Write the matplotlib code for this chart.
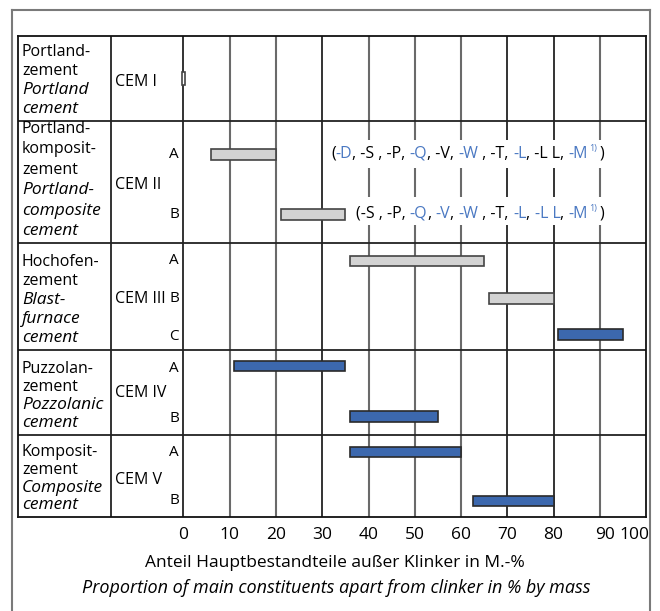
import matplotlib
matplotlib.use("Agg")
import matplotlib.pyplot as plt
import matplotlib.transforms as mtransforms
from matplotlib.lines import Line2D
from matplotlib.patches import Rectangle

plt.rcParams['font.family'] = ['Open Sans', 'DejaVu Sans']

# data: share of main constituents other than clinker (% by mass)
groups = ['CEM I', 'CEM II', 'CEM III', 'CEM IV', 'CEM V']
group_names_de = [['Portland-', 'zement'], ['Portland-', 'komposit-', 'zement'],
                  ['Hochofen-', 'zement'], ['Puzzolan-', 'zement'], ['Komposit-', 'zement']]
group_names_en = [['Portland', 'cement'], ['Portland-', 'composite', 'cement'],
                  ['Blast-', 'furnace', 'cement'], ['Pozzolanic', 'cement'], ['Composite', 'cement']]
sub_types = [[''], ['A', 'B'], ['A', 'B', 'C'], ['A', 'B'], ['A', 'B']]
bar_start = [-0.4, 6, 21, 36, 66, 81, 11, 36, 36, 62.5]
bar_end = [0.4, 20, 35, 65, 80, 95, 35, 55, 60, 80]
bar_blue = [False, False, False, False, False, True, True, True, True, True]
ticks = [0, 10, 20, 30, 40, 50, 60, 70, 80, 90, 100]

# constituent notes for CEM II (text, highlighted)
notes_a = [('(', 0), ('-D', 1), (', -S , -P, ', 0), ('-Q', 1), (', -V, ', 0), ('-W', 1),
           (' , -T, ', 0), ('-L', 1), (', -L L, ', 0), ('-M', 1)]
notes_b = [('(-S , -P, ', 0), ('-Q', 1), (', ', 0), ('-V', 1), (', ', 0), ('-W', 1),
           (' , -T, ', 0), ('-L', 1), (', ', 0), ('-L L', 1), (', ', 0), ('-M', 1)]

# layout (pixel based)
PX0, PPU = 183.5, 4.625
def px2x(px):
    return (px - PX0) / PPU

row_lines = [36, 121, 243, 350, 435, 517]
bar_y = [78.5, 154.5, 214.5, 261, 298.5, 334.5, 366, 416.5, 452, 501]
sub_y = [[82], [154, 215], [261, 298, 336], [368, 418], [453, 500]]
cem_y = [82, 185, 299, 393, 480]
line_step = [19, 20.4, 19, 18, 17.5]
grid_dark = [0, 30, 70, 80]

BLUE = '#3c68ae'
TXT_BLUE = '#4a78c2'
GRAY = '#d3d3d3'

fig = plt.figure(figsize=(6.6, 6.11), dpi=100)
W, H = 660, 611
ax = fig.add_axes([18 / W, 1 - 517 / H, (646 - 18) / W, (517 - 36) / H])
xmin = px2x(18)
ax.set_xlim(xmin, 100)
ax.set_ylim(517, 36)
for s in ax.spines.values():
    s.set_color('#111111')
    s.set_linewidth(1.3)
ax.set_yticks([])
ax.set_xticks(ticks)
ax.set_xticklabels([str(t) for t in ticks], fontsize=12.5)
ax.tick_params(axis='x', length=0, pad=7)
tl = ax.get_xticklabels()
tl[-1].set_ha('right')
tl[-1].set_transform(tl[-1].get_transform() + mtransforms.ScaledTranslation(3 / 100, 0, fig.dpi_scale_trans))
tl[-2].set_transform(tl[-2].get_transform() + mtransforms.ScaledTranslation(5 / 100, 0, fig.dpi_scale_trans))

# grid & table lines
for t in ticks[:-1]:
    ax.vlines(t, 36, 517, color='#111111' if t in grid_dark else '#6a6a6a',
              lw=1.2 if t in grid_dark else 1.5, zorder=1)
ax.vlines(px2x(111), 36, 517, color='#111111', lw=1.2, zorder=1)
ax.hlines(row_lines[1:-1], xmin, 100, color='#222222', lw=1.3, zorder=1)

# white gaps behind notes
for y in [154, 211]:
    ax.add_patch(Rectangle((32, y - 14), 66, 28, facecolor='white', edgecolor='none', zorder=2))

# bars
for i in range(len(bar_start)):
    ax.barh(bar_y[i], bar_end[i] - bar_start[i], left=bar_start[i],
            height=12.5 if i == 0 else 10.8,
            color=BLUE if bar_blue[i] else (GRAY if i else 'white'),
            edgecolor='#2a2a2a' if bar_blue[i] else '#444444', lw=1.2, zorder=3)

# left column text
for g in range(len(groups)):
    lines = [(s, 'normal') for s in group_names_de[g]] + [(s, 'italic') for s in group_names_en[g]]
    n = len(lines)
    first = row_lines[g + 1] - 12 - (n - 1) * line_step[g]
    for k, (s, st) in enumerate(lines):
        ax.text(px2x(22), first + k * line_step[g], s, fontsize=11.5 if st == 'normal' else 12.5,
                style=st, ha='left', va='center')
    ax.text(px2x(115), cem_y[g], groups[g], fontsize=11.5, ha='left', va='center')
    for lab, yy in zip(sub_types[g], sub_y[g]):
        if lab:
            ax.text(px2x(179), yy, lab, fontsize=11, ha='right', va='center')

# notes
FS = 11.5
def chain(parts, x0, y):
    prev = ax.text(x0, y, parts[0][0], fontsize=FS, color=TXT_BLUE if parts[0][1] else 'black',
                   ha='left', va='center', zorder=4)
    for s, blue in parts[1:]:
        prev = ax.annotate(s, xy=(1, 0), xycoords=prev, va='bottom', ha='left', fontsize=FS,
                           color=TXT_BLUE if blue else 'black', zorder=4)
    ax.annotate('1)', xy=(1, 0.55), xycoords=prev, xytext=(1, 0), textcoords='offset points',
                va='bottom', ha='left', fontsize=6.5, color=TXT_BLUE, zorder=4)
    ax.annotate(')', xy=(1, 0), xycoords=prev, xytext=(8, 0), textcoords='offset points',
                va='bottom', ha='left', fontsize=FS, zorder=4)

chain(notes_a, px2x(331), 154)
chain(notes_b, px2x(356), 214)

# axis title
fig.text(335 / W, 1 - 563 / H, 'Anteil Hauptbestandteile außer Klinker in M.-%',
         fontsize=12.5, ha='center', va='center')
fig.text(336 / W, 1 - 588 / H, 'Proportion of main constituents apart from clinker in % by mass',
         fontsize=13, style='italic', ha='center', va='center')

# outer frame
fc = '#7a7a7a'
fig.add_artist(Line2D([12 / W, 12 / W], [0, 1 - 10 / H], color=fc, lw=1.5))
fig.add_artist(Line2D([650 / W, 650 / W], [0, 1 - 10 / H], color=fc, lw=1.5))
fig.add_artist(Line2D([12 / W, 650 / W], [1 - 10 / H, 1 - 10 / H], color=fc, lw=1.5))

fig.savefig('out.png', dpi=100)
